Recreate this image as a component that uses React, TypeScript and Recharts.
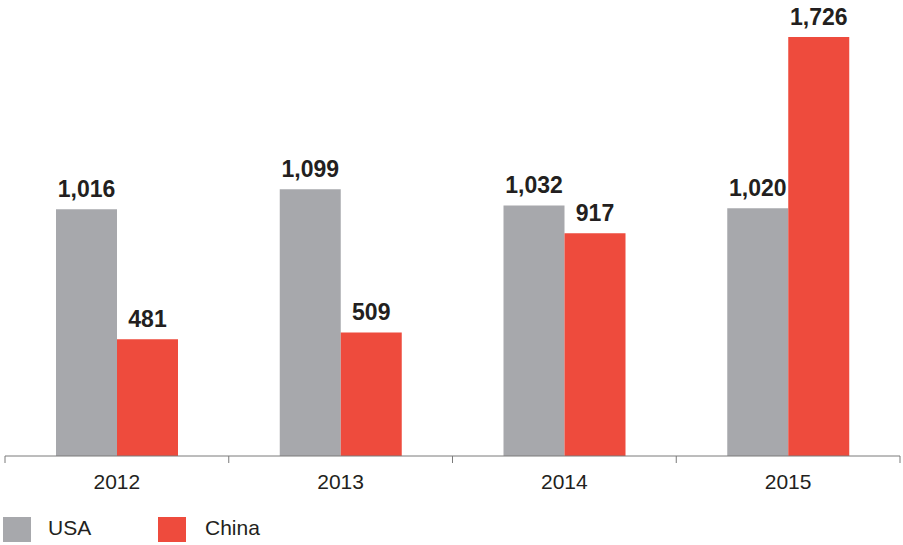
import React from 'react';
import { BarChart, Bar, XAxis, YAxis, Legend, LabelList } from 'recharts';

const years = ['2012', '2013', '2014', '2015'];
const usa = [1016, 1099, 1032, 1020];
const china = [481, 509, 917, 1726];

const GRAY = '#a7a8ac';
const RED = '#ee4b3d';
const TEXT = '#231f20';
const AXIS = '#7a7a7a';
const FONT = '"Liberation Sans", Arial, Helvetica, sans-serif';
const TICK_SIZE = 6;
const TICK_MARGIN = 12;

const data = years.map((year, i) => ({ year, USA: usa[i], China: china[i] }));

const fmt = (v: number) => v.toLocaleString('en-US');

// year label plus small tick marks at the category boundaries
const YearTick = (props: any) => {
  const { x, y, payload, index, visibleTicksCount } = props;
  const half = payload.offset || 895 / 8;
  const top = y - TICK_SIZE - TICK_MARGIN;
  const isLast = index === visibleTicksCount - 1;
  return (
    <g>
      <line x1={x - half} x2={x - half} y1={top} y2={top + 7} stroke={AXIS} />
      {isLast && <line x1={x + half} x2={x + half} y1={top} y2={top + 7} stroke={AXIS} />}
      <text x={x} y={y} dy="0.71em" textAnchor="middle" fill={TEXT} fontSize={21} fontFamily={FONT}>
        {payload.value}
      </text>
    </g>
  );
};

const LegendBox = () => (
  <div style={{ position: 'relative', height: 55, fontFamily: FONT, fontSize: 21, color: TEXT }}>
    <div style={{ position: 'absolute', left: 3, top: 27, width: 28, height: 25, background: GRAY }} />
    <div style={{ position: 'absolute', left: 48, top: 26, lineHeight: '24px' }}>USA</div>
    <div style={{ position: 'absolute', left: 158, top: 27, width: 28, height: 25, background: RED }} />
    <div style={{ position: 'absolute', left: 205, top: 26, lineHeight: '24px' }}>China</div>
  </div>
);

const App: React.FC = () => (
  <div style={{ position: 'absolute', left: 0, top: 0, width: 903, height: 545, background: '#fff' }}>
    <BarChart
      width={903}
      height={545}
      data={data}
      margin={{ top: 19, right: 3, left: 5, bottom: 0 }}
      barSize={61}
      barGap={0}
    >
      <XAxis
        dataKey="year"
        height={34}
        stroke={AXIS}
        tickLine={false}
        tickSize={TICK_SIZE}
        tickMargin={TICK_MARGIN}
        tick={<YearTick />}
        interval={0}
      />
      <YAxis hide domain={[0, 1800]} />
      <Legend verticalAlign="bottom" height={55} wrapperStyle={{ left: 0, width: 903 }} content={() => <LegendBox />} />
      <Bar dataKey="USA" fill={GRAY} isAnimationActive={false}>
        <LabelList
          dataKey="USA"
          position="top"
          offset={12}
          formatter={fmt}
          style={{ fill: TEXT, fontSize: 23, fontWeight: 700, fontFamily: FONT }}
        />
      </Bar>
      <Bar dataKey="China" fill={RED} isAnimationActive={false}>
        <LabelList
          dataKey="China"
          position="top"
          offset={12}
          formatter={fmt}
          style={{ fill: TEXT, fontSize: 23, fontWeight: 700, fontFamily: FONT }}
        />
      </Bar>
    </BarChart>
  </div>
);

export default App;
